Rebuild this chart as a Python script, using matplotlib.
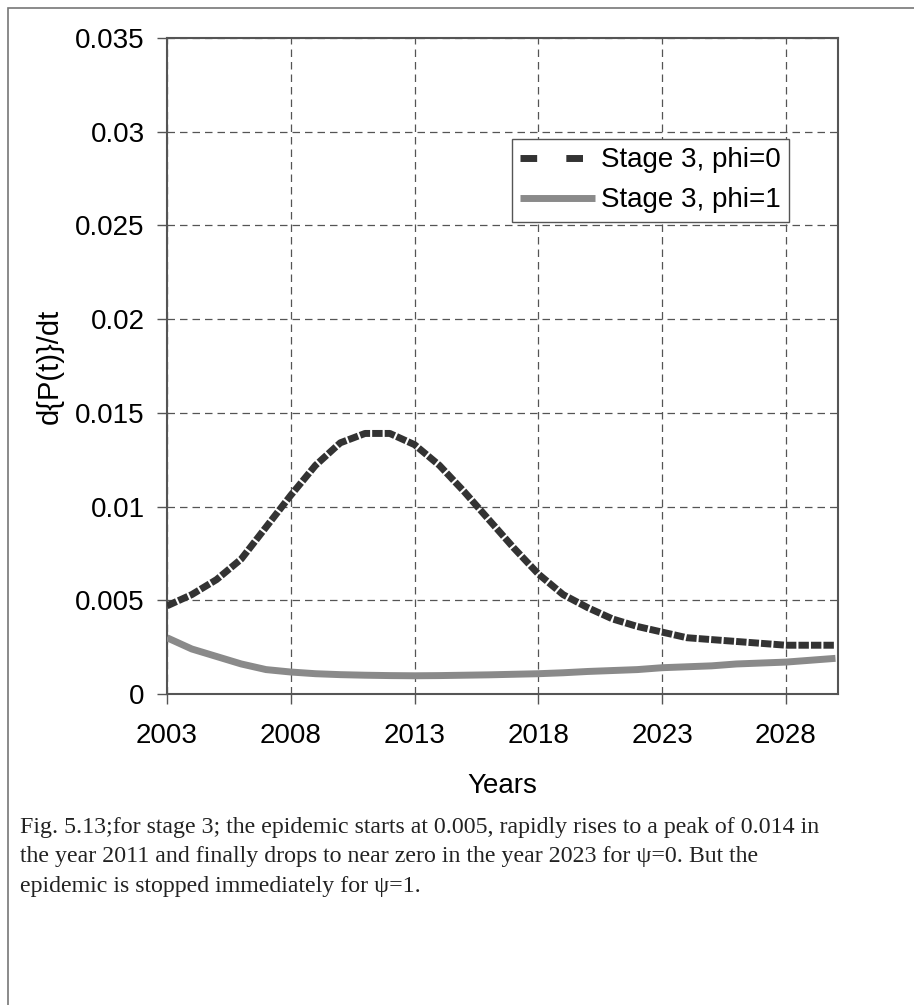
import matplotlib

matplotlib.use("Agg")
import matplotlib.pyplot as plt
from matplotlib.lines import Line2D
from matplotlib.patches import Rectangle

# values (yearly points)
YEARS = list(range(2003, 2031))
PHI0 = [0.0047, 0.0053, 0.0061, 0.0072, 0.0089, 0.0106, 0.0122, 0.0134, 0.0139, 0.0139,
        0.0133, 0.0122, 0.0108, 0.0093, 0.0078, 0.0064, 0.0053, 0.0046, 0.0040, 0.0036,
        0.0033, 0.0030, 0.0029, 0.0028, 0.0027, 0.0026, 0.0026, 0.0026]
PHI1 = [0.0030, 0.0024, 0.0020, 0.0016, 0.0013, 0.00117, 0.00108, 0.00103, 0.0010, 0.00098,
        0.00097, 0.00098, 0.0010, 0.00102, 0.00105, 0.00108, 0.00113, 0.0012, 0.00125, 0.0013,
        0.0014, 0.00145, 0.0015, 0.0016, 0.00165, 0.0017, 0.0018, 0.0019]
LABELS = ["Stage 3, phi=0", "Stage 3, phi=1"]
XTICKS = [2003, 2008, 2013, 2018, 2023, 2028]
YTICKS = [0, 0.005, 0.01, 0.015, 0.02, 0.025, 0.03, 0.035]
YTICK_LABELS = ["0", "0.005", "0.01", "0.015", "0.02", "0.025", "0.03", "0.035"]
CAPTION = ("Fig. 5.13;for stage 3; the epidemic starts at 0.005, rapidly rises to a peak of 0.014 in\n"
           "the year 2011 and finally drops to near zero in the year 2023 for \u03c8=0. But the\n"
           "epidemic is stopped immediately for \u03c8=1.")

plt.rcParams["font.family"] = ["Liberation Sans", "DejaVu Sans"]
DARK, GREY = "#333333", "#8a8a8a"

fig = plt.figure(figsize=(9.14, 10.05), dpi=100)
fig.patches.append(Rectangle((8 / 914, -0.1), 1.2, 1 - 8 / 1005 + 0.1, transform=fig.transFigure,
                             fill=False, edgecolor="#777777", lw=1.2))

ax = fig.add_axes((0.1827, 0.3095, 0.9168 - 0.1827, 0.9622 - 0.3095))
ax.plot(YEARS, PHI0, color=DARK, lw=5, linestyle=(0, (1.5, 0.3)), zorder=3)
ax.plot(YEARS, PHI1, color=GREY, lw=5, solid_capstyle="butt", zorder=3)

ax.set_xlim(2003, 2030.1)
ax.set_ylim(0, 0.035)
ax.set_xticks(XTICKS)
ax.set_yticks(YTICKS)
ax.set_yticklabels(YTICK_LABELS)
ax.tick_params(labelsize=20, length=7, width=1, color="#555555", direction="out")
ax.tick_params(axis="x", pad=14)
ax.tick_params(axis="y", pad=9)
ax.grid(True, color="#555555", lw=0.9, linestyle=(0, (6, 4)))
for s in ax.spines.values():
    s.set_color("#555555")
    s.set_linewidth(1.5)

ax.set_xlabel("Years", fontsize=20, labelpad=17)
ax.set_ylabel("d{P(t)}/dt", fontsize=21, labelpad=8)

handles = [Line2D([], [], color=DARK, lw=5, dashes=(2.4, 4.2)),
           Line2D([], [], color=GREY, lw=5, solid_capstyle="butt")]
leg = ax.legend(handles, LABELS, loc="upper left", bbox_to_anchor=(512 / 914, 1 - 139 / 1005),
                bbox_transform=fig.transFigure, borderaxespad=0, fontsize=20, fancybox=False,
                framealpha=1, edgecolor="#555555", handlelength=2.7, handletextpad=0.2,
                labelspacing=0.5, borderpad=0.3)
leg.get_frame().set_linewidth(1.0)

fig.text(20 / 914, 1 - 817 / 1005, CAPTION, fontsize=17.2, va="top", ha="left",
         family=["Liberation Serif", "DejaVu Serif"], linespacing=1.52, color="#222222")

fig.savefig("out.png", dpi=100)
